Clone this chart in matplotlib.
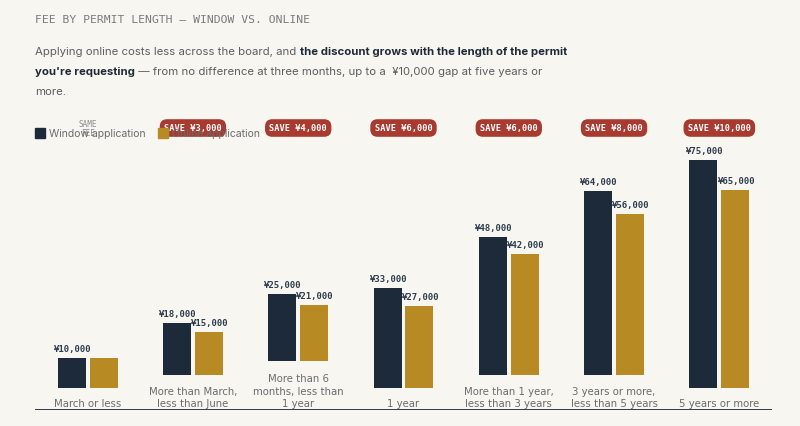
import matplotlib
matplotlib.use("Agg")
import matplotlib.pyplot as plt
from matplotlib.patches import Rectangle

categories = ["March or less", "More than March,\nless than June",
              "More than 6\nmonths, less than\n1 year", "1 year",
              "More than 1 year,\nless than 3 years",
              "3 years or more,\nless than 5 years", "5 years or more"]
window_fee = [10000, 18000, 25000, 33000, 48000, 64000, 75000]
online_fee = [10000, 15000, 21000, 27000, 42000, 56000, 65000]

BG = "#f8f6f1"
NAVY = "#1c2a3a"
GOLD = "#b88a24"
RED = "#a83a30"
GRAY = "#6b6b6b"
MONO = "DejaVu Sans Mono"
SANS = ["Inter", "DejaVu Sans"]
NARROW = ["DejaVu Sans Condensed", "Liberation Sans Narrow", "DejaVu Sans"]

W, H = 800, 427
fig = plt.figure(figsize=(W / 100, H / 100), dpi=100)
fig.patch.set_facecolor(BG)

# axes in pixel units: x = group index, y = pixels above the base line
ax = fig.add_axes([35 / W, 16 / H, 737 / W, 301 / H])
ax.set_facecolor(BG)
ax.set_xlim(-0.5, 6.5)
ax.set_ylim(0, 301)
ax.axis("off")
ax.axhline(0, color=NAVY, lw=2)

col_h = 250          # column height in px (bars + label)
vmax = max(window_fee)
bw = 28 / 105.3
off = 16 / 105.3

for i, cat in enumerate(categories):
    nlines = cat.count("\n") + 1
    lab_h = 8.5 + 13.5 * nlines
    k = (col_h - lab_h) / vmax
    hw = window_fee[i] * k
    ho = online_fee[i] * k
    ax.bar(i - off, hw, bw, bottom=lab_h, color=NAVY)
    ax.bar(i + off, ho, bw, bottom=lab_h, color=GOLD)
    ax.text(i, 1.5, cat, ha="center", va="bottom", fontsize=7.3,
            family=NARROW, color=GRAY, linespacing=1.35)
    ax.text(i - off, lab_h + hw + 5, f"¥{window_fee[i]:,}", ha="center",
            va="bottom", fontsize=6.5, family=MONO, weight="bold", color="#2e3d4d")
    if online_fee[i] != window_fee[i]:
        ax.text(i + off, lab_h + ho + 5, f"¥{online_fee[i]:,}", ha="center",
                va="bottom", fontsize=6.5, family=MONO, weight="bold", color="#2e3d4d")
        ax.text(i, 282, f"SAVE ¥{window_fee[i] - online_fee[i]:,}", ha="center",
                va="center", fontsize=6.2, family=MONO, weight="bold", color="white",
                zorder=5,
                bbox=dict(boxstyle="round,pad=0.5,rounding_size=0.85", fc=RED, ec="none"))
    else:
        ax.text(i, 282, "SAME\nFEE", ha="center", va="center", fontsize=5.5,
                family=MONO, color="#8a8a8a", linespacing=1.0, zorder=5)

# legend
for x0, color, label in [(35, NAVY, "Window application"), (158, GOLD, "Online application")]:
    fig.patches.append(Rectangle((x0 / W, 1 - 139 / H), 10 / W, 10 / H,
                                 transform=fig.transFigure, color=color))
    fig.text((x0 + 14) / W, 1 - 134 / H, label, fontsize=7.5, family=SANS,
             color=GRAY, va="center")

# title
fig.text(35 / W, 1 - 20 / H, "FEE BY PERMIT LENGTH — WINDOW VS. ONLINE",
         fontsize=8.2, family=MONO, color="#7a7a7a", va="center")

# subtitle with bold runs
lines = [
    [("Applying online costs less across the board, and ", False),
     ("the discount grows with the length of the permit", True)],
    [("you're requesting", True),
     (" — from no difference at three months, up to a  ¥10,000 gap at five years or", False)],
    [("more.", False)],
]
renderer = fig.canvas.get_renderer()
for li, segs in enumerate(lines):
    x = 35
    y = 1 - (52 + 20 * li) / H
    for txt, bold in segs:
        t = fig.text(x / W, y, txt, fontsize=8.2, family=SANS, va="center",
                     weight="bold" if bold else "normal",
                     color="#1e2a38" if bold else "#5e5e5e")
        x += t.get_window_extent(renderer).width

fig.savefig("out.png", dpi=100, facecolor=BG)
